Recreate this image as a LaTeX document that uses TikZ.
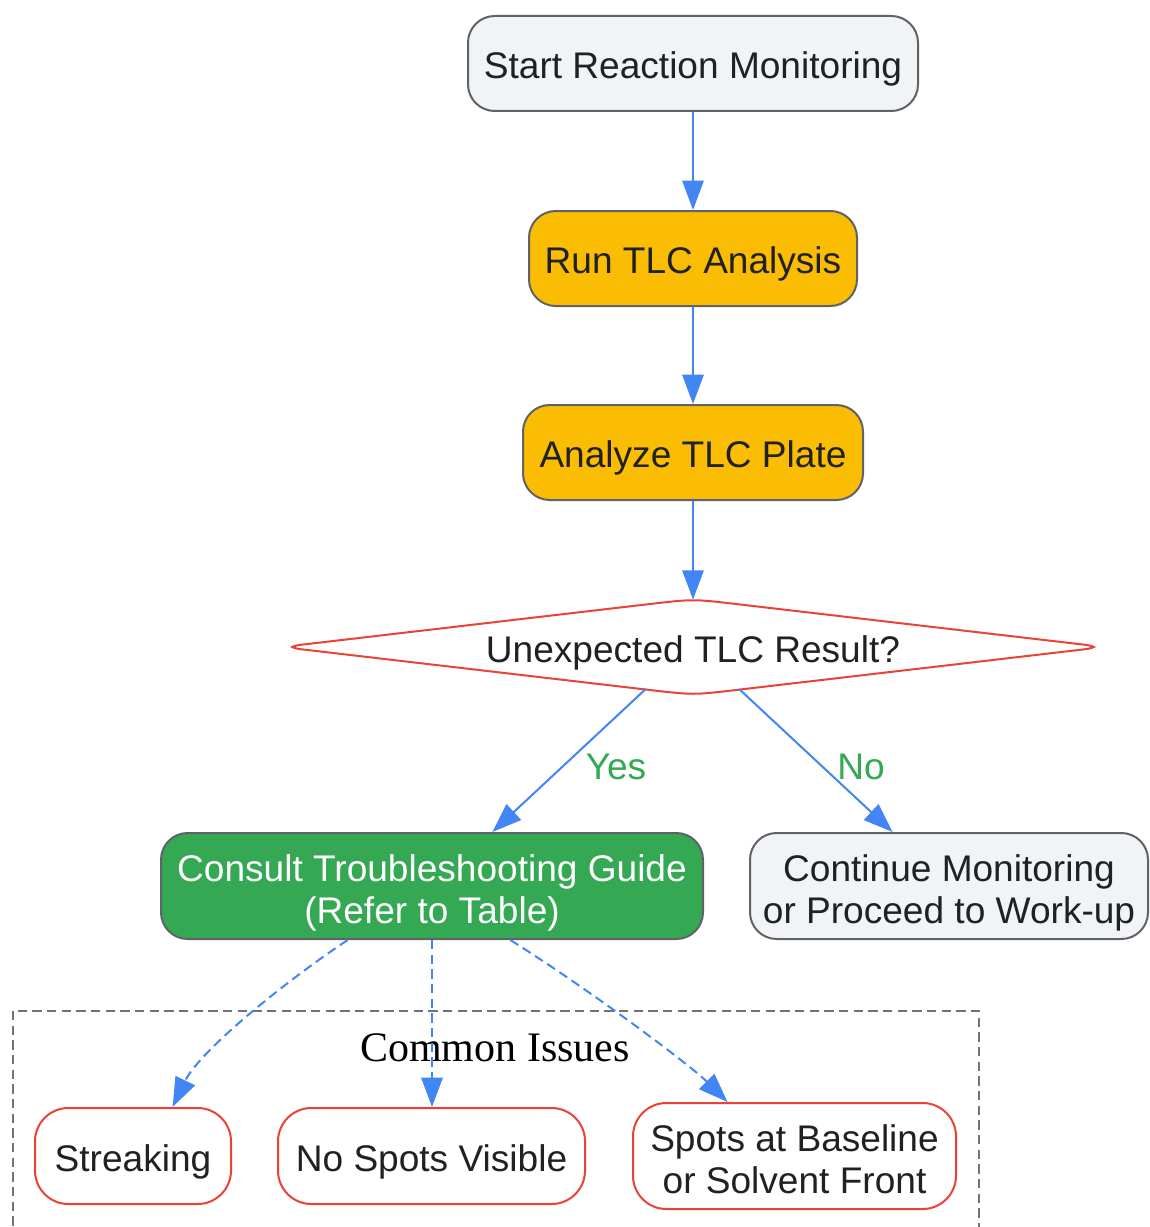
\documentclass[tikz,border=0pt]{standalone}
\usepackage{fontspec}
\setmainfont{Liberation Sans}
\newfontfamily\clusterfont{Liberation Serif}
\usetikzlibrary{arrows.meta,calc,shapes.geometric}
\definecolor{gblue}{HTML}{4285F4}
\definecolor{amber}{HTML}{FBBC04}
\definecolor{ggreen}{HTML}{34A853}
\definecolor{gred}{HTML}{EA4335}
\definecolor{lightfill}{HTML}{F1F3F4}
\definecolor{bordergray}{HTML}{5F6368}
\definecolor{txt}{HTML}{202124}
\newcommand\twolines[2]{\begin{tabular}{@{}c@{}}\rule{0pt}{34pt}#1\\#2\end{tabular}}
\tikzset{
  struts/.style={execute at begin node={\rule{0pt}{29pt}}, execute at end node={\rule[-6pt]{0pt}{6pt}}},
  basebox/.style={rounded corners=20pt, line width=1.5pt, draw=bordergray, inner sep=0pt,
    font=\fontsize{27.8}{31.5}\selectfont, text=txt},
  box/.style={basebox, struts},
  graybox/.style={box, fill=lightfill},
  ambox/.style={box, fill=amber},
  greenbox/.style={basebox, fill=ggreen, text=white},
  graybox2/.style={basebox, fill=lightfill},
  issue/.style={box, draw=gred, fill=white, rounded corners=25pt},
  issue2/.style={basebox, draw=gred, fill=white, rounded corners=25pt},
  flow/.style={draw=gblue, line width=1.5pt, -{Triangle[length=22pt,width=16pt]}},
  dflow/.style={flow, dash pattern=on 7pt off 4pt},
  lbl/.style={text=ggreen, font=\fontsize{27.8}{31.5}\selectfont, inner sep=0pt},
}
\begin{document}
\begin{tikzpicture}[x=0.75pt,y=-0.75pt]
\clip (0,0) rectangle (1149,1227);
\fill[white] (0,0) rectangle (1149,1227);

% cluster
\draw[draw=bordergray!90, line width=1.5pt, dash pattern=on 7pt off 4pt] (13,1011) rectangle (979,1240);
\node[font=\clusterfont\fontsize{31.5}{36}\selectfont, text=black, inner sep=0pt] (cl) at (495,1048) {Common Issues};

% nodes
\node[graybox, minimum width=337.5pt, minimum height=71.25pt] (start) at (693,63.5) {Start Reaction Monitoring};
\node[ambox, minimum width=246pt, minimum height=71.25pt] (run) at (693,258.5) {Run TLC Analysis};
\node[ambox, minimum width=255pt, minimum height=71.25pt] (ana) at (693,452.5) {Analyze TLC Plate};
\node[shape=diamond, minimum width=600pt, minimum height=69pt, inner sep=0pt, aspect=8.7,
      font=\fontsize{27.8}{31.5}\selectfont, text=txt, struts] (d) at (693,647) {Unexpected TLC Result?};
\draw[gred, line width=1.5pt]
  (299,645) -- (650,604) .. controls (693,599) .. (736,604) -- (1087,645)
  .. controls (1096,647) .. (1087,649) -- (736,690) .. controls (693,695) .. (650,690)
  -- (299,649) .. controls (290,647) .. cycle;
\node[greenbox, minimum width=406.5pt, minimum height=79.5pt] (cons) at (432,886) {\twolines{Consult Troubleshooting Guide}{(Refer to Table)}};
\node[graybox2, minimum width=298.5pt, minimum height=79.5pt] (cont) at (949,886) {\twolines{Continue Monitoring}{or Proceed to Work-up}};
\node[issue, minimum width=147pt, minimum height=72pt] (str) at (133,1156) {Streaking};
\node[issue, minimum width=230.25pt, minimum height=72pt] (nos) at (431.5,1156) {No Spots Visible};
\node[issue2, minimum width=242.25pt, minimum height=79.5pt] (spb) at (794.5,1156) {\twolines{Spots at Baseline}{or Solvent Front}};

% connectors
\draw[flow] (start.south) -- (run.north);
\draw[flow] (run.south) -- (ana.north);
\draw[flow] (ana.south) -- (d.north);
\draw[flow] ($(d.south)!0.115!(d.west)$) -- ($(cons.north west)!0.611!(cons.north east)$);
\draw[flow] ($(d.south)!0.1125!(d.east)$) -- ($(cont.north west)!0.359!(cont.north east)$);
\node[lbl] (yes) at (616,767) {Yes};
\node[lbl] (no) at (861,767) {No};

\draw[dflow] ($(cons.south west)!0.345!(cons.south east)$) .. controls (290,978) and (200,1050) .. ($(str.north west)!0.70!(str.north east)$);
\draw[dflow] (cons.south) -- (cons.south |- nos.north);
\draw[dflow] ($(cons.south west)!0.644!(cons.south east)$) .. controls (590,990) and (690,1065) .. ($(spb.north west)!0.294!(spb.north east)$);
\end{tikzpicture}
\end{document}
